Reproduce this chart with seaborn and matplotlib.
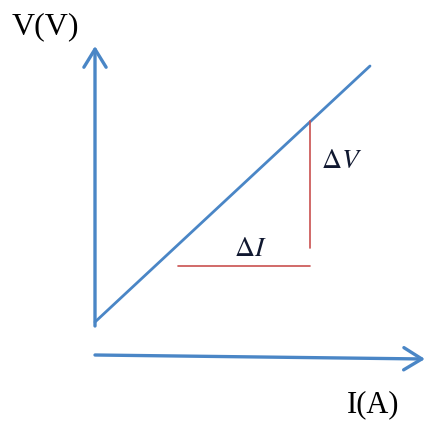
import matplotlib
matplotlib.use("Agg")
import matplotlib.pyplot as plt
import seaborn as sns
import pandas as pd

# diagram coordinates (pixel space of the drawing, y grows downward)
v_axis_x = [95, 95]
v_axis_y = [326, 46]
i_axis_x = [95, 425]
i_axis_y = [355, 359]

line_x = [95, 370]
line_y = [322, 66]

dv_x = [310, 310]
dv_y = [121, 248]
di_x = [178, 310]
di_y = [266, 266]

blue = "#4a86c6"
red = "#c9504f"

sns.set_theme(style="white")
plt.rcParams["font.family"] = ["Liberation Serif", "DejaVu Serif"]
plt.rcParams["mathtext.fontset"] = "stix"

fig = plt.figure(figsize=(4.26, 4.24), dpi=100)
ax = fig.add_axes([0, 0, 1, 1])

line_df = pd.DataFrame({"I": line_x, "V": line_y})
sns.lineplot(data=line_df, x="I", y="V", color=blue, linewidth=2.0,
             sort=False, estimator=None, ax=ax)
sns.lineplot(x=dv_x, y=dv_y, color=red, linewidth=1.2, sort=False, estimator=None, ax=ax)
sns.lineplot(x=di_x, y=di_y, color=red, linewidth=1.2, sort=False, estimator=None, ax=ax)

arrow_kw = dict(arrowstyle="->,head_length=0.65,head_width=0.4", color=blue,
                lw=2.4, mutation_scale=20, shrinkA=0, shrinkB=0)
ax.annotate("", xy=(v_axis_x[1], v_axis_y[1]), xytext=(v_axis_x[0], v_axis_y[0]),
            arrowprops=arrow_kw)
ax.annotate("", xy=(i_axis_x[1], i_axis_y[1]), xytext=(i_axis_x[0], i_axis_y[0]),
            arrowprops=arrow_kw)

ax.text(45, 27, "V(V)", fontsize=23, ha="center", va="center", color="black")
ax.text(373, 405, "I(A)", fontsize=22, ha="center", va="center", color="black")
ax.text(342, 162, r"$\Delta V$", fontsize=20, ha="center", va="center", color="#101830")
ax.text(250, 249, r"$\Delta I$", fontsize=20, ha="center", va="center", color="#101830")

ax.set_xlim(0, 426)
ax.set_ylim(424, 0)
ax.axis("off")

plt.savefig("out.png", dpi=100)
